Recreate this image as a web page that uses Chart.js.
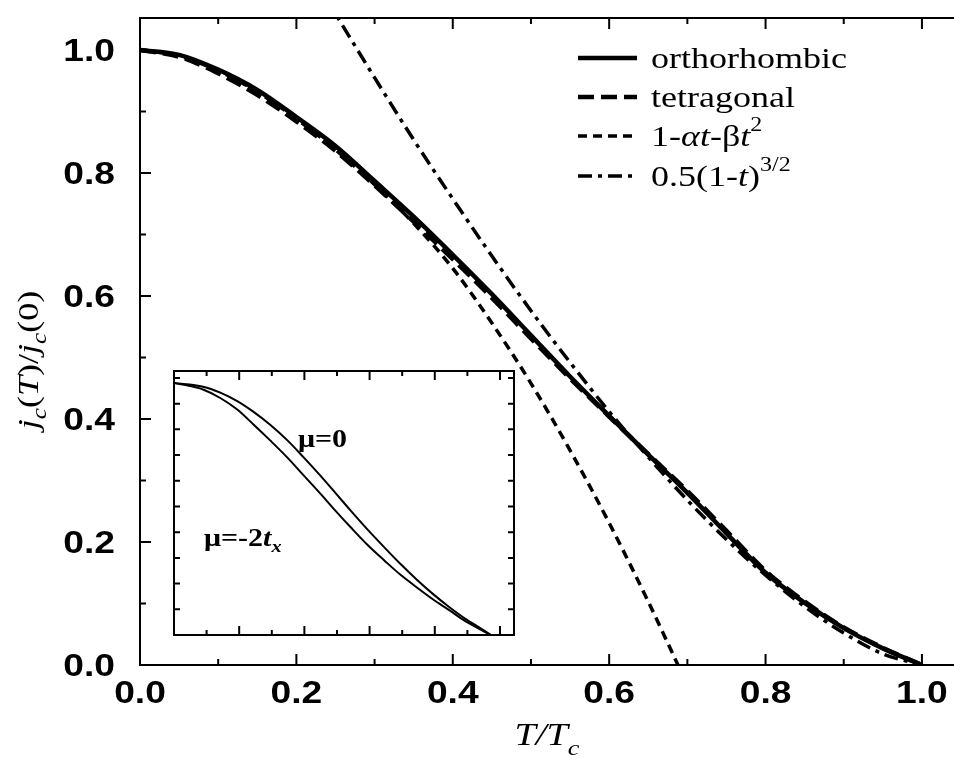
<!DOCTYPE html>
<html>
<head>
<meta charset="utf-8">
<script src="https://cdn.jsdelivr.net/npm/chart.js@4/dist/chart.umd.min.js"></script>
<style>
  body { margin: 0; background: #fff; }
  #wrap { position: relative; width: 954px; height: 759px; overflow: hidden; }
  #inset { position: absolute; left: 173px; top: 370px; }
</style>
</head>
<body>
<div id="wrap">
  <canvas id="main" width="954" height="759"></canvas>
  <canvas id="inset" width="342" height="266"></canvas>
</div>
<script>
// main curves
const tGrid = [0, 0.05, 0.1, 0.15, 0.2, 0.25, 0.3, 0.35, 0.4, 0.45, 0.5, 0.55, 0.6, 0.65, 0.7, 0.75, 0.8, 0.85, 0.9, 0.95, 1.0];
const orthoJ = [1.000, 0.992, 0.968, 0.935, 0.891, 0.844, 0.787, 0.729, 0.667, 0.603, 0.536, 0.469, 0.405, 0.342, 0.280, 0.214, 0.150, 0.101, 0.060, 0.027, 0.000];
const tetraJ = [1.000, 0.989, 0.962, 0.927, 0.884, 0.836, 0.780, 0.721, 0.660, 0.597, 0.531, 0.466, 0.404, 0.343, 0.283, 0.218, 0.153, 0.103, 0.061, 0.028, 0.000];

const fitT = [0, 0.05, 0.1, 0.15, 0.2, 0.25, 0.3, 0.35, 0.4, 0.45, 0.5, 0.55, 0.6, 0.65, 0.688];
const fitJ = [1.000, 0.990, 0.966, 0.932, 0.888, 0.838, 0.781, 0.718, 0.645, 0.556, 0.458, 0.349, 0.231, 0.103, 0.000];

const powT = [0.2, 0.25, 0.3, 0.35, 0.4, 0.45, 0.5, 0.55, 0.6, 0.65, 0.7, 0.75, 0.8, 0.85, 0.9, 0.95, 1.0];
const powJ = [1.166, 1.059, 0.955, 0.854, 0.758, 0.665, 0.576, 0.492, 0.412, 0.338, 0.268, 0.204, 0.146, 0.095, 0.052, 0.018, 0.000];

const legendLabels = ["orthorhombic", "tetragonal", "1-\u03b1t-\u03b2t2", "0.5(1-t)3/2"];

// inset curves
const insetT0 = [0, 0.089, 0.142, 0.194, 0.243, 0.295, 0.348, 0.397, 0.449, 0.495, 0.542, 0.594, 0.646, 0.695, 0.745, 0.794, 0.843, 0.895, 0.942, 0.972];
const insetJ0 = [0.980, 0.966, 0.943, 0.910, 0.869, 0.818, 0.757, 0.692, 0.620, 0.553, 0.484, 0.410, 0.340, 0.276, 0.215, 0.160, 0.110, 0.062, 0.025, 0.000];
const insetT2 = [0, 0.049, 0.089, 0.142, 0.194, 0.243, 0.295, 0.348, 0.397, 0.449, 0.495, 0.542, 0.594, 0.646, 0.695, 0.745, 0.794, 0.843, 0.895, 0.942, 0.972];
const insetJ2 = [0.980, 0.969, 0.955, 0.922, 0.877, 0.820, 0.757, 0.690, 0.622, 0.550, 0.484, 0.419, 0.350, 0.289, 0.234, 0.185, 0.139, 0.098, 0.053, 0.020, 0.000];

// ticks
const xMajor = [0, 0.2, 0.4, 0.6, 0.8, 1.0];
const xLabels = ["0.0", "0.2", "0.4", "0.6", "0.8", "1.0"];
const xMinor = [0.1, 0.3, 0.5, 0.7, 0.9];
const yMajor = [0, 0.2, 0.4, 0.6, 0.8, 1.0];
const yLabels = ["0.0", "0.2", "0.4", "0.6", "0.8", "1.0"];
const yMinor = [0.1, 0.3, 0.5, 0.7, 0.9];
const insetXTicks = [0.1, 0.2, 0.3, 0.4, 0.5, 0.6, 0.7, 0.8, 0.9, 1.0];
const insetYTicks = [0.1, 0.2, 0.3, 0.4, 0.5, 0.6, 0.7, 0.8, 0.9, 1.0];

const SERIF = '"Liberation Serif", "Times New Roman", serif';
const SANS = '"Liberation Sans", Arial, sans-serif';
const SX = 1.2; // the scan is a bit wide

function pts(xs, ys) {
  return xs.map((v, i) => ({ x: v, y: ys[i] }));
}

// draw a run of text pieces: [text, font, dy]
function rich(ctx, parts, x, y, align) {
  let w = 0;
  parts.forEach(p => { ctx.font = p[1]; w += ctx.measureText(p[0]).width; });
  let cx = align === 'center' ? -w / 2 : (align === 'right' ? -w : 0);
  ctx.save();
  ctx.translate(x, y);
  ctx.scale(SX, 1);
  ctx.textAlign = 'left';
  ctx.textBaseline = 'alphabetic';
  ctx.fillStyle = '#000';
  parts.forEach(p => {
    ctx.font = p[1];
    ctx.fillText(p[0], cx, p[2] || 0);
    cx += ctx.measureText(p[0]).width;
  });
  ctx.restore();
}

const mainDeco = {
  id: 'mainDeco',
  afterDraw(chart) {
    const { ctx, chartArea: a, scales: { x, y } } = chart;
    ctx.save();
    ctx.strokeStyle = '#000';
    ctx.lineWidth = 2;
    ctx.setLineDash([]);
    ctx.strokeRect(a.left, a.top, a.right - a.left + 10, a.bottom - a.top);

    ctx.beginPath();
    xMajor.concat(xMinor).forEach(v => {
      const px = x.getPixelForValue(v);
      const len = xMajor.includes(v) ? 11 : 6;
      ctx.moveTo(px, a.bottom); ctx.lineTo(px, a.bottom - len);
      ctx.moveTo(px, a.top); ctx.lineTo(px, a.top + len);
    });
    yMajor.concat(yMinor).forEach(v => {
      const py = y.getPixelForValue(v);
      const len = yMajor.includes(v) ? 11 : 6;
      ctx.moveTo(a.left, py); ctx.lineTo(a.left + len, py);
    });
    ctx.stroke();

    // tick labels
    const tickFont = 'bold 31px ' + SANS;
    xMajor.forEach((v, i) => rich(ctx, [[xLabels[i], tickFont]], x.getPixelForValue(v), a.bottom + 38, 'center'));
    yMajor.forEach((v, i) => rich(ctx, [[yLabels[i], tickFont]], a.left - 25, y.getPixelForValue(v) + 11, 'right'));

    // axis titles
    const it = 'italic 32px ' + SERIF;
    const itSub = 'italic 22px ' + SERIF;
    rich(ctx, [['T', it], ['/', it], ['T', it], ['c', itSub, 10]], (a.left + 950) / 2 + 2, 745, 'center');

    ctx.save();
    ctx.translate(38, 360);
    ctx.rotate(-Math.PI / 2);
    const rm = '30px ' + SERIF;
    const iy = 'italic 30px ' + SERIF;
    const iys = 'italic 21px ' + SERIF;
    rich(ctx, [['j', iy], ['c', iys, 8], ['(', rm], ['T', iy], [')/', rm], ['j', iy], ['c', iys, 8], ['(0)', rm]], 0, 0, 'center');
    ctx.restore();

    // legend
    const rows = [58, 97, 136, 176];
    const lf = '30px ' + SERIF;
    const li = 'italic 30px ' + SERIF;
    const ls = '20px ' + SERIF;
    const texts = [
      [[legendLabels[0], lf]],
      [[legendLabels[1], lf]],
      [['1-', lf], ['\u03b1', li], ['t', li], ['-\u03b2', lf], ['t', li], ['2', ls, -15]],
      [['0.5(1-', lf], ['t', li], [')', lf], ['3/2', ls, -15]]
    ];
    chart.data.datasets.forEach((ds, i) => {
      ctx.beginPath();
      ctx.lineWidth = ds.borderWidth;
      ctx.setLineDash(ds.borderDash || []);
      ctx.moveTo(578, rows[i]);
      ctx.lineTo(637, rows[i]);
      ctx.stroke();
      ctx.setLineDash([]);
      rich(ctx, texts[i], 651, rows[i] + 10, 'left');
    });
    ctx.restore();
  }
};

new Chart(document.getElementById('main'), {
  type: 'line',
  data: {
    datasets: [
      { label: legendLabels[0], data: pts(tGrid, orthoJ), borderColor: '#000', borderWidth: 4.5, cubicInterpolationMode: 'monotone' },
      { label: legendLabels[1], data: pts(tGrid, tetraJ), borderColor: '#000', borderWidth: 4.5, borderDash: [16, 7], cubicInterpolationMode: 'monotone' },
      { label: legendLabels[2], data: pts(fitT, fitJ), borderColor: '#000', borderWidth: 3.5, borderDash: [9, 6], cubicInterpolationMode: 'monotone' },
      { label: legendLabels[3], data: pts(powT, powJ), borderColor: '#000', borderWidth: 3.5, borderDash: [14, 6, 4, 6], cubicInterpolationMode: 'monotone' }
    ]
  },
  options: {
    responsive: false,
    animation: false,
    layout: { padding: { top: 18, left: 0, right: 0, bottom: 0 } },
    elements: { point: { radius: 0 } },
    plugins: { legend: { display: false }, tooltip: { enabled: false } },
    scales: {
      x: {
        type: 'linear', min: 0, max: 1.041,
        ticks: { display: false }, grid: { display: false }, border: { display: false },
        afterFit: s => { s.height = 94; }
      },
      y: {
        type: 'linear', min: 0, max: 1.052,
        ticks: { display: false }, grid: { display: false }, border: { display: false },
        afterFit: s => { s.width = 140; }
      }
    }
  },
  plugins: [mainDeco]
});

const insetDeco = {
  id: 'insetDeco',
  beforeDraw(chart) {
    const { ctx, width, height } = chart;
    ctx.save();
    ctx.fillStyle = '#fff';
    ctx.fillRect(0, 0, width, height);
    ctx.restore();
  },
  afterDraw(chart) {
    const { ctx, chartArea: a, scales: { x, y } } = chart;
    ctx.save();
    ctx.strokeStyle = '#000';
    ctx.lineWidth = 2;
    ctx.strokeRect(a.left, a.top, a.right - a.left, a.bottom - a.top);
    ctx.beginPath();
    insetXTicks.forEach((v, i) => {
      const px = x.getPixelForValue(v);
      const len = i % 2 === 1 ? 9 : 5;
      ctx.moveTo(px, a.bottom); ctx.lineTo(px, a.bottom - len);
      ctx.moveTo(px, a.top); ctx.lineTo(px, a.top + len);
    });
    insetYTicks.forEach(v => {
      const py = y.getPixelForValue(v);
      ctx.moveTo(a.left, py); ctx.lineTo(a.left + 6, py);
      ctx.moveTo(a.right, py); ctx.lineTo(a.right - 6, py);
    });
    ctx.stroke();

    const bf = 'bold 25px ' + SERIF;
    const bi = 'bold italic 25px ' + SERIF;
    const bs = 'bold italic 17px ' + SERIF;
    rich(ctx, [['\u03bc=0', bf]], 125, 77, 'left');
    rich(ctx, [['\u03bc=-2', bf], ['t', bi], ['x', bs, 6]], 31, 176, 'left');
    ctx.restore();
  }
};

new Chart(document.getElementById('inset'), {
  type: 'line',
  data: {
    datasets: [
      { label: '\u03bc=0', data: pts(insetT0, insetJ0), borderColor: '#000', borderWidth: 2, cubicInterpolationMode: 'monotone' },
      { label: '\u03bc=-2tx', data: pts(insetT2, insetJ2), borderColor: '#000', borderWidth: 2, cubicInterpolationMode: 'monotone' }
    ]
  },
  options: {
    responsive: false,
    animation: false,
    layout: { padding: 1 },
    elements: { point: { radius: 0 } },
    plugins: { legend: { display: false }, tooltip: { enabled: false } },
    scales: {
      x: { type: 'linear', min: 0, max: 1.043, display: false },
      y: { type: 'linear', min: 0, max: 1.027, display: false }
    }
  },
  plugins: [insetDeco]
});
</script>
</body>
</html>
